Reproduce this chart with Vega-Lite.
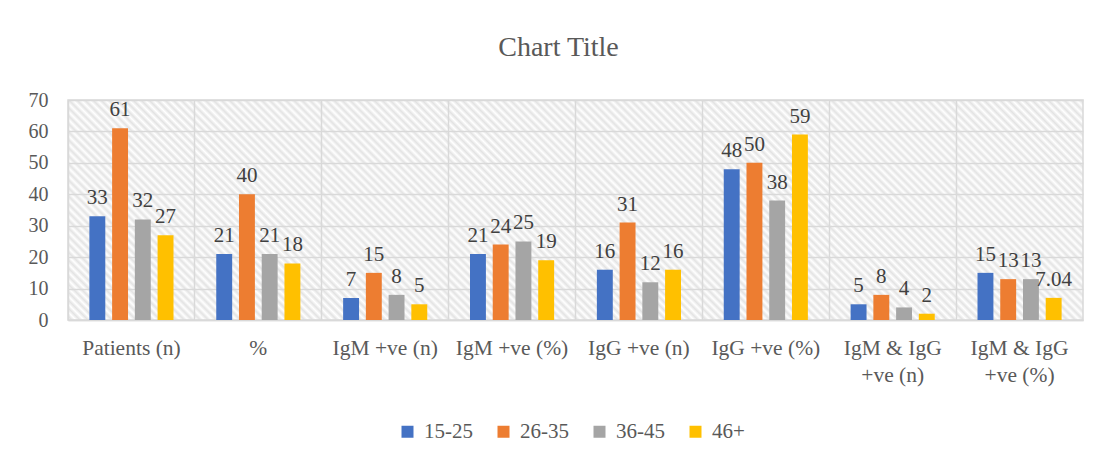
{
  "$schema": "https://vega.github.io/schema/vega-lite/v6.json",
  "width": 1015,
  "height": 220,
  "autosize": {"type": "none"},
  "padding": {"left": 68, "top": 100, "right": 17, "bottom": 144},
  "background": "white",
  "title": {
    "text": "Chart Title",
    "font": "Liberation Serif",
    "fontSize": 28,
    "fontWeight": "normal",
    "color": "#595959",
    "anchor": "middle",
    "frame": "group",
    "dx": -17,
    "offset": 28
  },
  "config": {
    "view": {
      "stroke": "#d9d9d9",
      "strokeWidth": 1.5,
      "fill": {
        "gradient": "linear",
        "x1": 0, "y1": 1, "x2": 1.16215, "y2": 0.7481,
        "stops": [
{"offset":0,"color":"#fff"},{"offset":0.00325,"color":"#e3e3e3"},{"offset":0.0065,"color":"#fff"},{"offset":0.00975,"color":"#e3e3e3"},
{"offset":0.013,"color":"#fff"},{"offset":0.01625,"color":"#e3e3e3"},{"offset":0.0195,"color":"#fff"},{"offset":0.02275,"color":"#e3e3e3"},
{"offset":0.026,"color":"#fff"},{"offset":0.02925,"color":"#e3e3e3"},{"offset":0.0325,"color":"#fff"},{"offset":0.03575,"color":"#e3e3e3"},
{"offset":0.039,"color":"#fff"},{"offset":0.04225,"color":"#e3e3e3"},{"offset":0.0455,"color":"#fff"},{"offset":0.04875,"color":"#e3e3e3"},
{"offset":0.052,"color":"#fff"},{"offset":0.05525,"color":"#e3e3e3"},{"offset":0.0585,"color":"#fff"},{"offset":0.06175,"color":"#e3e3e3"},
{"offset":0.065,"color":"#fff"},{"offset":0.06825,"color":"#e3e3e3"},{"offset":0.0715,"color":"#fff"},{"offset":0.07475,"color":"#e3e3e3"},
{"offset":0.078,"color":"#fff"},{"offset":0.08125,"color":"#e3e3e3"},{"offset":0.0845,"color":"#fff"},{"offset":0.08775,"color":"#e3e3e3"},
{"offset":0.091,"color":"#fff"},{"offset":0.09425,"color":"#e3e3e3"},{"offset":0.0975,"color":"#fff"},{"offset":0.10075,"color":"#e3e3e3"},
{"offset":0.104,"color":"#fff"},{"offset":0.10725,"color":"#e3e3e3"},{"offset":0.1105,"color":"#fff"},{"offset":0.11375,"color":"#e3e3e3"},
{"offset":0.117,"color":"#fff"},{"offset":0.12025,"color":"#e3e3e3"},{"offset":0.1235,"color":"#fff"},{"offset":0.12675,"color":"#e3e3e3"},
{"offset":0.13,"color":"#fff"},{"offset":0.13325,"color":"#e3e3e3"},{"offset":0.1365,"color":"#fff"},{"offset":0.13975,"color":"#e3e3e3"},
{"offset":0.143,"color":"#fff"},{"offset":0.14625,"color":"#e3e3e3"},{"offset":0.1495,"color":"#fff"},{"offset":0.15275,"color":"#e3e3e3"},
{"offset":0.156,"color":"#fff"},{"offset":0.15925,"color":"#e3e3e3"},{"offset":0.1625,"color":"#fff"},{"offset":0.16575,"color":"#e3e3e3"},
{"offset":0.169,"color":"#fff"},{"offset":0.17225,"color":"#e3e3e3"},{"offset":0.1755,"color":"#fff"},{"offset":0.17875,"color":"#e3e3e3"},
{"offset":0.182,"color":"#fff"},{"offset":0.18525,"color":"#e3e3e3"},{"offset":0.1885,"color":"#fff"},{"offset":0.19175,"color":"#e3e3e3"},
{"offset":0.195,"color":"#fff"},{"offset":0.19825,"color":"#e3e3e3"},{"offset":0.2015,"color":"#fff"},{"offset":0.20475,"color":"#e3e3e3"},
{"offset":0.208,"color":"#fff"},{"offset":0.21125,"color":"#e3e3e3"},{"offset":0.2145,"color":"#fff"},{"offset":0.21775,"color":"#e3e3e3"},
{"offset":0.221,"color":"#fff"},{"offset":0.22425,"color":"#e3e3e3"},{"offset":0.2275,"color":"#fff"},{"offset":0.23075,"color":"#e3e3e3"},
{"offset":0.234,"color":"#fff"},{"offset":0.23725,"color":"#e3e3e3"},{"offset":0.2405,"color":"#fff"},{"offset":0.24375,"color":"#e3e3e3"},
{"offset":0.247,"color":"#fff"},{"offset":0.25025,"color":"#e3e3e3"},{"offset":0.2535,"color":"#fff"},{"offset":0.25675,"color":"#e3e3e3"},
{"offset":0.26,"color":"#fff"},{"offset":0.26325,"color":"#e3e3e3"},{"offset":0.2665,"color":"#fff"},{"offset":0.26975,"color":"#e3e3e3"},
{"offset":0.273,"color":"#fff"},{"offset":0.27625,"color":"#e3e3e3"},{"offset":0.2795,"color":"#fff"},{"offset":0.28275,"color":"#e3e3e3"},
{"offset":0.286,"color":"#fff"},{"offset":0.28925,"color":"#e3e3e3"},{"offset":0.2925,"color":"#fff"},{"offset":0.29575,"color":"#e3e3e3"},
{"offset":0.299,"color":"#fff"},{"offset":0.30225,"color":"#e3e3e3"},{"offset":0.3055,"color":"#fff"},{"offset":0.30875,"color":"#e3e3e3"},
{"offset":0.312,"color":"#fff"},{"offset":0.31525,"color":"#e3e3e3"},{"offset":0.3185,"color":"#fff"},{"offset":0.32175,"color":"#e3e3e3"},
{"offset":0.325,"color":"#fff"},{"offset":0.32825,"color":"#e3e3e3"},{"offset":0.3315,"color":"#fff"},{"offset":0.33475,"color":"#e3e3e3"},
{"offset":0.338,"color":"#fff"},{"offset":0.34125,"color":"#e3e3e3"},{"offset":0.3445,"color":"#fff"},{"offset":0.34775,"color":"#e3e3e3"},
{"offset":0.351,"color":"#fff"},{"offset":0.35425,"color":"#e3e3e3"},{"offset":0.3575,"color":"#fff"},{"offset":0.36075,"color":"#e3e3e3"},
{"offset":0.364,"color":"#fff"},{"offset":0.36725,"color":"#e3e3e3"},{"offset":0.3705,"color":"#fff"},{"offset":0.37375,"color":"#e3e3e3"},
{"offset":0.377,"color":"#fff"},{"offset":0.38025,"color":"#e3e3e3"},{"offset":0.3835,"color":"#fff"},{"offset":0.38675,"color":"#e3e3e3"},
{"offset":0.39,"color":"#fff"},{"offset":0.39325,"color":"#e3e3e3"},{"offset":0.3965,"color":"#fff"},{"offset":0.39975,"color":"#e3e3e3"},
{"offset":0.403,"color":"#fff"},{"offset":0.40625,"color":"#e3e3e3"},{"offset":0.4095,"color":"#fff"},{"offset":0.41275,"color":"#e3e3e3"},
{"offset":0.416,"color":"#fff"},{"offset":0.41925,"color":"#e3e3e3"},{"offset":0.4225,"color":"#fff"},{"offset":0.42575,"color":"#e3e3e3"},
{"offset":0.429,"color":"#fff"},{"offset":0.43225,"color":"#e3e3e3"},{"offset":0.4355,"color":"#fff"},{"offset":0.43875,"color":"#e3e3e3"},
{"offset":0.442,"color":"#fff"},{"offset":0.44525,"color":"#e3e3e3"},{"offset":0.4485,"color":"#fff"},{"offset":0.45175,"color":"#e3e3e3"},
{"offset":0.455,"color":"#fff"},{"offset":0.45825,"color":"#e3e3e3"},{"offset":0.4615,"color":"#fff"},{"offset":0.46475,"color":"#e3e3e3"},
{"offset":0.468,"color":"#fff"},{"offset":0.47125,"color":"#e3e3e3"},{"offset":0.4745,"color":"#fff"},{"offset":0.47775,"color":"#e3e3e3"},
{"offset":0.481,"color":"#fff"},{"offset":0.48425,"color":"#e3e3e3"},{"offset":0.4875,"color":"#fff"},{"offset":0.49075,"color":"#e3e3e3"},
{"offset":0.494,"color":"#fff"},{"offset":0.49725,"color":"#e3e3e3"},{"offset":0.5005,"color":"#fff"},{"offset":0.50375,"color":"#e3e3e3"},
{"offset":0.507,"color":"#fff"},{"offset":0.51025,"color":"#e3e3e3"},{"offset":0.5135,"color":"#fff"},{"offset":0.51675,"color":"#e3e3e3"},
{"offset":0.52,"color":"#fff"},{"offset":0.52325,"color":"#e3e3e3"},{"offset":0.5265,"color":"#fff"},{"offset":0.52975,"color":"#e3e3e3"},
{"offset":0.533,"color":"#fff"},{"offset":0.53625,"color":"#e3e3e3"},{"offset":0.5395,"color":"#fff"},{"offset":0.54275,"color":"#e3e3e3"},
{"offset":0.546,"color":"#fff"},{"offset":0.54925,"color":"#e3e3e3"},{"offset":0.5525,"color":"#fff"},{"offset":0.55575,"color":"#e3e3e3"},
{"offset":0.559,"color":"#fff"},{"offset":0.56225,"color":"#e3e3e3"},{"offset":0.5655,"color":"#fff"},{"offset":0.56875,"color":"#e3e3e3"},
{"offset":0.572,"color":"#fff"},{"offset":0.57525,"color":"#e3e3e3"},{"offset":0.5785,"color":"#fff"},{"offset":0.58175,"color":"#e3e3e3"},
{"offset":0.585,"color":"#fff"},{"offset":0.58825,"color":"#e3e3e3"},{"offset":0.5915,"color":"#fff"},{"offset":0.59475,"color":"#e3e3e3"},
{"offset":0.598,"color":"#fff"},{"offset":0.60125,"color":"#e3e3e3"},{"offset":0.6045,"color":"#fff"},{"offset":0.60775,"color":"#e3e3e3"},
{"offset":0.611,"color":"#fff"},{"offset":0.61425,"color":"#e3e3e3"},{"offset":0.6175,"color":"#fff"},{"offset":0.62075,"color":"#e3e3e3"},
{"offset":0.624,"color":"#fff"},{"offset":0.62725,"color":"#e3e3e3"},{"offset":0.6305,"color":"#fff"},{"offset":0.63375,"color":"#e3e3e3"},
{"offset":0.637,"color":"#fff"},{"offset":0.64025,"color":"#e3e3e3"},{"offset":0.6435,"color":"#fff"},{"offset":0.64675,"color":"#e3e3e3"},
{"offset":0.65,"color":"#fff"},{"offset":0.65325,"color":"#e3e3e3"},{"offset":0.6565,"color":"#fff"},{"offset":0.65975,"color":"#e3e3e3"},
{"offset":0.663,"color":"#fff"},{"offset":0.66625,"color":"#e3e3e3"},{"offset":0.6695,"color":"#fff"},{"offset":0.67275,"color":"#e3e3e3"},
{"offset":0.676,"color":"#fff"},{"offset":0.67925,"color":"#e3e3e3"},{"offset":0.6825,"color":"#fff"},{"offset":0.68575,"color":"#e3e3e3"},
{"offset":0.689,"color":"#fff"},{"offset":0.69225,"color":"#e3e3e3"},{"offset":0.6955,"color":"#fff"},{"offset":0.69875,"color":"#e3e3e3"},
{"offset":0.702,"color":"#fff"},{"offset":0.70525,"color":"#e3e3e3"},{"offset":0.7085,"color":"#fff"},{"offset":0.71175,"color":"#e3e3e3"},
{"offset":0.715,"color":"#fff"},{"offset":0.71825,"color":"#e3e3e3"},{"offset":0.7215,"color":"#fff"},{"offset":0.72475,"color":"#e3e3e3"},
{"offset":0.728,"color":"#fff"},{"offset":0.73125,"color":"#e3e3e3"},{"offset":0.7345,"color":"#fff"},{"offset":0.73775,"color":"#e3e3e3"},
{"offset":0.741,"color":"#fff"},{"offset":0.74425,"color":"#e3e3e3"},{"offset":0.7475,"color":"#fff"},{"offset":0.75075,"color":"#e3e3e3"},
{"offset":0.754,"color":"#fff"},{"offset":0.75725,"color":"#e3e3e3"},{"offset":0.7605,"color":"#fff"},{"offset":0.76375,"color":"#e3e3e3"},
{"offset":0.767,"color":"#fff"},{"offset":0.77025,"color":"#e3e3e3"},{"offset":0.7735,"color":"#fff"},{"offset":0.77675,"color":"#e3e3e3"},
{"offset":0.78,"color":"#fff"},{"offset":0.78325,"color":"#e3e3e3"},{"offset":0.7865,"color":"#fff"},{"offset":0.78975,"color":"#e3e3e3"},
{"offset":0.793,"color":"#fff"},{"offset":0.79625,"color":"#e3e3e3"},{"offset":0.7995,"color":"#fff"},{"offset":0.80275,"color":"#e3e3e3"},
{"offset":0.806,"color":"#fff"},{"offset":0.80925,"color":"#e3e3e3"},{"offset":0.8125,"color":"#fff"},{"offset":0.81575,"color":"#e3e3e3"},
{"offset":0.819,"color":"#fff"},{"offset":0.82225,"color":"#e3e3e3"},{"offset":0.8255,"color":"#fff"},{"offset":0.82875,"color":"#e3e3e3"},
{"offset":0.832,"color":"#fff"},{"offset":0.83525,"color":"#e3e3e3"},{"offset":0.8385,"color":"#fff"},{"offset":0.84175,"color":"#e3e3e3"},
{"offset":0.845,"color":"#fff"},{"offset":0.84825,"color":"#e3e3e3"},{"offset":0.8515,"color":"#fff"},{"offset":0.85475,"color":"#e3e3e3"},
{"offset":0.858,"color":"#fff"},{"offset":0.86125,"color":"#e3e3e3"},{"offset":0.8645,"color":"#fff"},{"offset":0.86775,"color":"#e3e3e3"},
{"offset":0.871,"color":"#fff"},{"offset":0.87425,"color":"#e3e3e3"},{"offset":0.8775,"color":"#fff"},{"offset":0.88075,"color":"#e3e3e3"},
{"offset":0.884,"color":"#fff"},{"offset":0.88725,"color":"#e3e3e3"},{"offset":0.8905,"color":"#fff"},{"offset":0.89375,"color":"#e3e3e3"},
{"offset":0.897,"color":"#fff"},{"offset":0.90025,"color":"#e3e3e3"},{"offset":0.9035,"color":"#fff"},{"offset":0.90675,"color":"#e3e3e3"},
{"offset":0.91,"color":"#fff"},{"offset":0.91325,"color":"#e3e3e3"},{"offset":0.9165,"color":"#fff"},{"offset":0.91975,"color":"#e3e3e3"},
{"offset":0.923,"color":"#fff"},{"offset":0.92625,"color":"#e3e3e3"},{"offset":0.9295,"color":"#fff"},{"offset":0.93275,"color":"#e3e3e3"},
{"offset":0.936,"color":"#fff"},{"offset":0.93925,"color":"#e3e3e3"},{"offset":0.9425,"color":"#fff"},{"offset":0.94575,"color":"#e3e3e3"},
{"offset":0.949,"color":"#fff"},{"offset":0.95225,"color":"#e3e3e3"},{"offset":0.9555,"color":"#fff"},{"offset":0.95875,"color":"#e3e3e3"},
{"offset":0.962,"color":"#fff"},{"offset":0.96525,"color":"#e3e3e3"},{"offset":0.9685,"color":"#fff"},{"offset":0.97175,"color":"#e3e3e3"},
{"offset":0.975,"color":"#fff"},{"offset":0.97825,"color":"#e3e3e3"},{"offset":0.9815,"color":"#fff"},{"offset":0.98475,"color":"#e3e3e3"},
{"offset":0.988,"color":"#fff"},{"offset":0.99125,"color":"#e3e3e3"},{"offset":0.9945,"color":"#fff"},{"offset":0.99775,"color":"#e3e3e3"},
{"offset":1,"color":"#fff"}
        ]
      }
    },
    "font": "Liberation Serif"
  },
  "data": {
    "values": [
      {"category": "Patients (n)", "age": "15-25", "value": 33},
      {"category": "Patients (n)", "age": "26-35", "value": 61},
      {"category": "Patients (n)", "age": "36-45", "value": 32},
      {"category": "Patients (n)", "age": "46+", "value": 27},
      {"category": "%", "age": "15-25", "value": 21},
      {"category": "%", "age": "26-35", "value": 40},
      {"category": "%", "age": "36-45", "value": 21},
      {"category": "%", "age": "46+", "value": 18},
      {"category": "IgM +ve (n)", "age": "15-25", "value": 7},
      {"category": "IgM +ve (n)", "age": "26-35", "value": 15},
      {"category": "IgM +ve (n)", "age": "36-45", "value": 8},
      {"category": "IgM +ve (n)", "age": "46+", "value": 5},
      {"category": "IgM +ve (%)", "age": "15-25", "value": 21},
      {"category": "IgM +ve (%)", "age": "26-35", "value": 24},
      {"category": "IgM +ve (%)", "age": "36-45", "value": 25},
      {"category": "IgM +ve (%)", "age": "46+", "value": 19},
      {"category": "IgG +ve (n)", "age": "15-25", "value": 16},
      {"category": "IgG +ve (n)", "age": "26-35", "value": 31},
      {"category": "IgG +ve (n)", "age": "36-45", "value": 12},
      {"category": "IgG +ve (n)", "age": "46+", "value": 16},
      {"category": "IgG +ve (%)", "age": "15-25", "value": 48},
      {"category": "IgG +ve (%)", "age": "26-35", "value": 50},
      {"category": "IgG +ve (%)", "age": "36-45", "value": 38},
      {"category": "IgG +ve (%)", "age": "46+", "value": 59},
      {"category": "IgM & IgG +ve (n)", "age": "15-25", "value": 5},
      {"category": "IgM & IgG +ve (n)", "age": "26-35", "value": 8},
      {"category": "IgM & IgG +ve (n)", "age": "36-45", "value": 4},
      {"category": "IgM & IgG +ve (n)", "age": "46+", "value": 2},
      {"category": "IgM & IgG +ve (%)", "age": "15-25", "value": 15},
      {"category": "IgM & IgG +ve (%)", "age": "26-35", "value": 13},
      {"category": "IgM & IgG +ve (%)", "age": "36-45", "value": 13},
      {"category": "IgM & IgG +ve (%)", "age": "46+", "value": 7.04}
    ]
  },
  "encoding": {
    "x": {
      "field": "category",
      "type": "nominal",
      "sort": null,
      "scale": {"paddingInner": 0, "paddingOuter": 0},
      "axis": {
        "title": null,
        "labelAngle": 0,
        "labelFont": "Liberation Serif",
        "labelFontSize": 21.5,
        "labelColor": "#595959",
        "labelPadding": 17,
        "labelLineHeight": 27,
        "labelLimit": 200,
        "labelExpr": "indexof(datum.label, '&') > 0 ? ['IgM & IgG', substring(datum.label, 10)] : datum.label",
        "ticks": false,
        "domain": true,
        "domainColor": "#d9d9d9",
        "domainWidth": 1.5,
        "grid": true,
        "bandPosition": 0,
        "gridColor": "#d9d9d9",
        "gridWidth": 1.5
      }
    },
    "xOffset": {
      "field": "age",
      "type": "nominal",
      "sort": null,
      "scale": {"paddingInner": 0.3, "paddingOuter": 0.94}
    },
    "y": {
      "field": "value",
      "type": "quantitative",
      "scale": {"domain": [0, 70]},
      "axis": {
        "title": null,
        "values": [0, 10, 20, 30, 40, 50, 60, 70],
        "labelOverlap": false,
        "labelFont": "Liberation Serif",
        "labelFontSize": 20,
        "labelColor": "#595959",
        "labelPadding": 20,
        "ticks": false,
        "domain": false,
        "gridColor": "#d9d9d9",
        "gridWidth": 1.5
      }
    }
  },
  "layer": [
    {
      "mark": {"type": "bar"},
      "encoding": {
        "color": {
          "field": "age",
          "type": "nominal",
          "scale": {
            "domain": ["15-25", "26-35", "36-45", "46+"],
            "range": ["#4472C4", "#ED7D31", "#A5A5A5", "#FFC000"]
          },
          "legend": {
            "title": null,
            "orient": "none",
            "legendX": 329,
            "legendY": 321,
            "direction": "horizontal",
            "symbolType": "square",
            "symbolSize": 144,
            "symbolStrokeWidth": 0,
            "labelFont": "Liberation Serif",
            "labelFontSize": 21,
            "labelColor": "#595959",
            "labelOffset": 6,
            "columnPadding": 20
          }
        }
      }
    },
    {
      "mark": {
        "type": "text",
        "baseline": "alphabetic",
        "dy": -12,
        "font": "Liberation Serif",
        "fontSize": 21,
        "color": "#404040"
      },
      "encoding": {
        "text": {"field": "value", "type": "quantitative"}
      }
    }
  ]
}
